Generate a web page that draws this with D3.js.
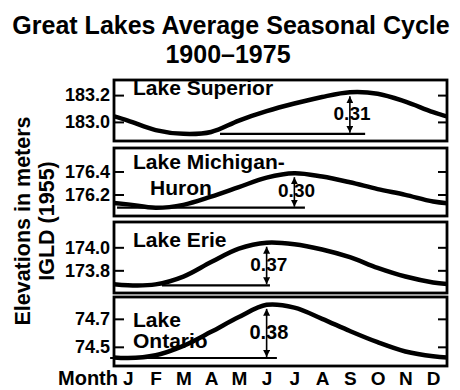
<!DOCTYPE html>
<html>
<head>
<meta charset="utf-8">
<script src="https://cdn.jsdelivr.net/npm/d3@7"></script>
<style>
  body { margin: 0; background: #fff; }
  svg { display: block; }
  text { font-family: "Liberation Sans", Arial, Helvetica, sans-serif; font-weight: bold; fill: #000; }
</style>
</head>
<body>
<svg id="chart" width="460" height="390"></svg>
<script>
// Mean monthly lake levels, metres above IGLD (1955), 1900-1975
const months = ["J", "F", "M", "A", "M", "J", "J", "A", "S", "O", "N", "D"];
const superior      = [183.010, 182.939, 182.911, 182.925, 183.010, 183.080, 183.137, 183.186, 183.221, 183.210, 183.151, 183.073];
const michiganHuron = [176.114, 176.085, 176.110, 176.181, 176.264, 176.347, 176.385, 176.356, 176.306, 176.247, 176.197, 176.139];
const erie          = [173.670, 173.678, 173.746, 173.872, 173.989, 174.040, 174.027, 173.981, 173.914, 173.821, 173.746, 173.695];
const ontario       = [74.420, 74.440, 74.507, 74.607, 74.713, 74.800, 74.780, 74.700, 74.613, 74.533, 74.467, 74.433];
const lakeNames = [["Lake Superior"], ["Lake Michigan-", "Huron"], ["Lake Erie"], ["Lake", "Ontario"]];
const tickValues = [[183.0, 183.2], [176.2, 176.4], [173.8, 174.0], [74.5, 74.7]];

const series = [superior, michiganHuron, erie, ontario];

// panel frames and vertical scale domains
const panels = [
  { top: 80,  bottom: 141, domain: [182.8575, 183.3127], names: [[133, 95]],             span: [3.82, 9.05] },
  { top: 148, bottom: 216, domain: [176.013, 176.604],   names: [[133, 169], [150, 195]], span: [0.11, 6.88] },
  { top: 222, bottom: 293, domain: [173.603, 174.220],   names: [[133, 247]],             span: [1.73, 5.62] },
  { top: 297, bottom: 366, domain: [74.363, 74.856],     names: [[133, 327], [133, 348]], span: [-0.14, 5.87] }
];
const left = 114, right = 447;

const svg = d3.select("#chart");
const x = d3.scaleLinear().domain([0, 12]).range([left, right]);
const fmt = d3.format(".2f");

const defs = svg.append("defs");
defs.append("marker")
  .attr("id", "head")
  .attr("viewBox", "0 0 8 8")
  .attr("refX", 8).attr("refY", 4)
  .attr("markerWidth", 7).attr("markerHeight", 7)
  .attr("markerUnits", "userSpaceOnUse")
  .attr("orient", "auto-start-reverse")
  .append("path").attr("d", "M0,0L8,4L0,8Z").attr("fill", "#000");

// title
svg.append("text").attr("x", 231).attr("y", 34).attr("text-anchor", "middle")
  .attr("font-size", 25).text("Great Lakes Average Seasonal Cycle");
svg.append("text").attr("x", 228).attr("y", 62.5).attr("text-anchor", "middle")
  .attr("font-size", 25).text("1900\u20131975");

// vertical axis title
const yt = svg.append("g").attr("transform", "translate(0,221)");
yt.append("text").attr("transform", "translate(30,0) rotate(-90)").attr("text-anchor", "middle")
  .attr("font-size", 21.5).text("Elevations in meters");
yt.append("text").attr("transform", "translate(54,0) rotate(-90)").attr("text-anchor", "middle")
  .attr("font-size", 21.5).text("IGLD (1955)");

const line = d3.line()
  .x(d => x(d.m))
  .y(d => d.y)
  .curve(d3.curveCatmullRom.alpha(0.5));

panels.forEach((p, i) => {
  const vals = series[i];
  const y = d3.scaleLinear().domain(p.domain).range([p.bottom, p.top]);
  const g = svg.append("g");

  defs.append("clipPath").attr("id", "clip" + i)
    .append("rect").attr("x", left).attr("y", p.top).attr("width", right - left).attr("height", p.bottom - p.top);

  // the cycle wraps: December precedes January and January follows December
  const pts = [{ m: -0.5, y: y(vals[11]) }]
    .concat(vals.map((v, j) => ({ m: j + 0.5, y: y(v) })))
    .concat([{ m: 12.5, y: y(vals[0]) }]);

  // left axis
  const ax = g.append("g").attr("transform", `translate(${left},0)`)
    .call(d3.axisLeft(y).tickValues(tickValues[i]).tickSize(-10).tickPadding(4).tickFormat(d3.format(".1f")));
  ax.select(".domain").remove();
  ax.selectAll("line").attr("stroke", "#000").attr("stroke-width", 2);
  ax.selectAll("text").attr("font-size", 18).attr("fill", "#000");
  ax.attr("font-family", null).attr("font-size", null);

  // right ticks
  const ar = g.append("g").attr("transform", `translate(${right},0)`)
    .call(d3.axisRight(y).tickValues(tickValues[i]).tickSize(-9).tickFormat(""));
  ar.select(".domain").remove();
  ar.selectAll("line").attr("stroke", "#000").attr("stroke-width", 2);

  // seasonal curve
  g.append("path").datum(pts)
    .attr("clip-path", `url(#clip${i})`)
    .attr("d", line)
    .attr("fill", "none").attr("stroke", "#000").attr("stroke-width", 4.5)
    .attr("stroke-linejoin", "round");

  // range annotation: minimum line and arrow from peak to minimum
  const vMax = d3.max(vals), vMin = d3.min(vals);
  const iMax = vals.indexOf(vMax);
  const axX = x(iMax + 0.5);
  g.append("line")
    .attr("x1", x(p.span[0])).attr("x2", x(p.span[1]))
    .attr("y1", y(vMin)).attr("y2", y(vMin))
    .attr("stroke", "#000").attr("stroke-width", 2.2);
  g.append("line")
    .attr("x1", axX).attr("x2", axX)
    .attr("y1", y(vMax) + 4).attr("y2", y(vMin) - 1)
    .attr("stroke", "#000").attr("stroke-width", 1.6)
    .attr("marker-start", "url(#head)").attr("marker-end", "url(#head)");
  const fs = i === 3 ? 20 : 19;
  const ly = (y(vMax) + y(vMin)) / 2 + fs * 0.36;
  g.append("text")
    .attr("x", axX - fs * 0.86).attr("y", ly)
    .attr("font-size", fs)
    .text(fmt(vMax - vMin));

  // lake name
  lakeNames[i].forEach((n, k) => {
    g.append("text").attr("x", p.names[k][0]).attr("y", p.names[k][1])
      .attr("font-size", 21).text(n);
  });

  // frame
  g.append("rect")
    .attr("x", left).attr("y", p.top)
    .attr("width", right - left).attr("height", p.bottom - p.top)
    .attr("fill", "none").attr("stroke", "#000").attr("stroke-width", 2.8);
});

// month axis
const mx = svg.append("g").attr("transform", "translate(0,371.5)")
  .call(d3.axisBottom(x).tickValues(d3.range(12).map(j => j + 0.5)).tickSize(0).tickPadding(0)
    .tickFormat((d, j) => months[j]));
mx.select(".domain").remove();
mx.selectAll("text").attr("font-size", 19).attr("fill", "#000");
mx.attr("font-family", null).attr("font-size", null);

svg.append("text").attr("x", 118).attr("y", 385).attr("text-anchor", "end")
  .attr("font-size", 20).text("Month");
</script>
</body>
</html>
